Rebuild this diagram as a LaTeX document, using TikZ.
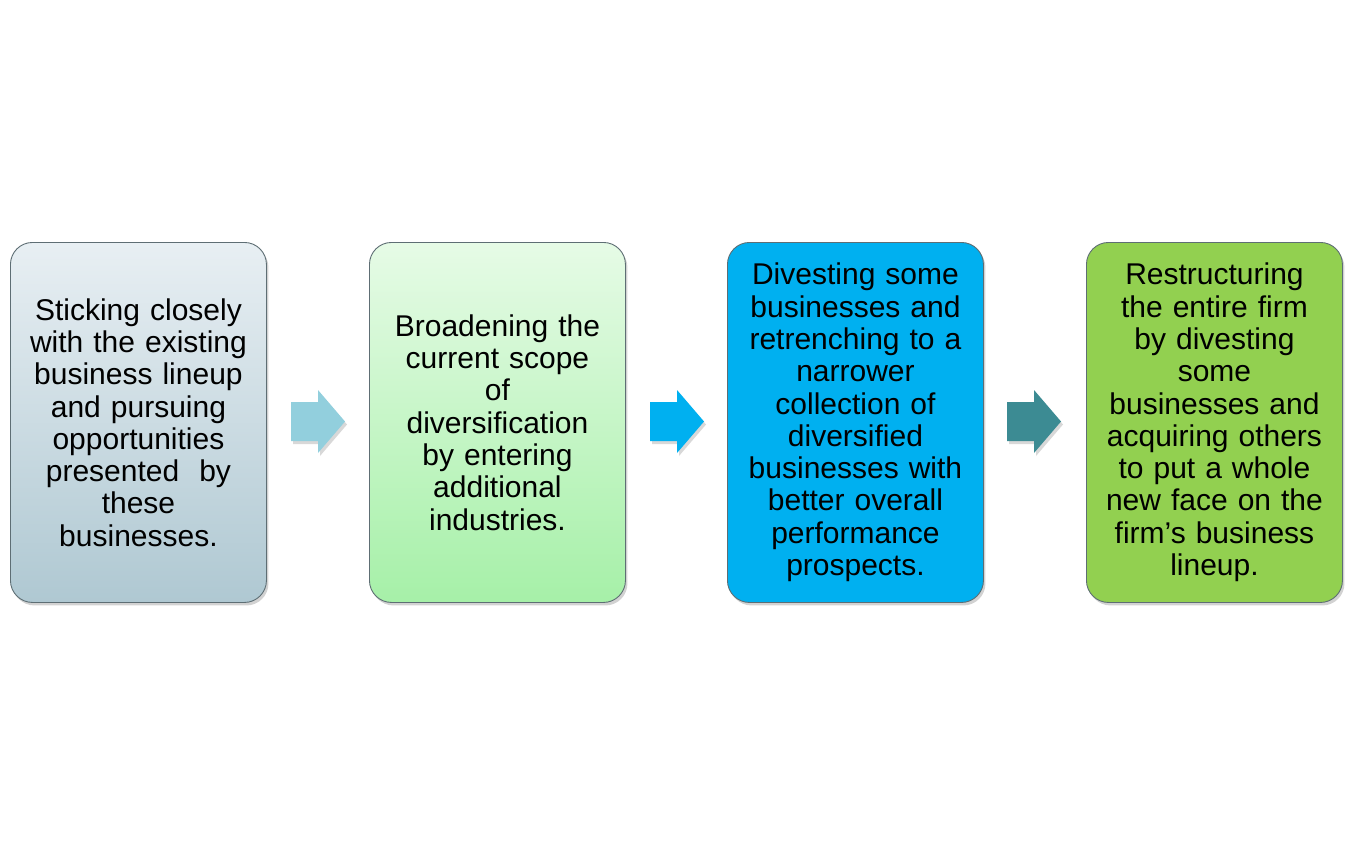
\documentclass[tikz,border=0pt]{standalone}
\usepackage{fontspec}
\setmainfont{Liberation Sans}
\usetikzlibrary{shadows}
\definecolor{bOneTop}{HTML}{E8EFF3}
\definecolor{bOneBot}{HTML}{AFC8D2}
\definecolor{bTwoTop}{HTML}{E6FBE6}
\definecolor{bTwoBot}{HTML}{A6F0A8}
\definecolor{bThree}{HTML}{00B0F0}
\definecolor{bFour}{HTML}{92D050}
\definecolor{aOne}{HTML}{92CFDD}
\definecolor{aTwo}{HTML}{00B0F0}
\definecolor{aThree}{HTML}{3C8B93}
\definecolor{edge}{HTML}{5E6E74}
\begin{document}
\begin{tikzpicture}[x=1pt,y=-1pt,
  boxstyle/.style={draw=edge, line width=0.9pt, rounded corners=22pt,
    minimum width=256pt, minimum height=360pt, inner sep=0pt,
    text width=248pt, align=center, anchor=north west,
    font=\fontsize{30}{32.3}\selectfont,
    drop shadow={shadow xshift=2pt, shadow yshift=-3pt, opacity=0.35}},
  arrowstyle/.style={draw=none,
    drop shadow={shadow xshift=2pt, shadow yshift=-3pt, opacity=0.3}}]
\useasboundingbox (0,0) rectangle (1362,844);
\fill[white] (0,0) rectangle (1362,844);

\node[boxstyle, top color=bOneTop, bottom color=bOneBot] (b1) at (10,242)
 {Sticking closely\\with the existing\\business lineup\\and pursuing\\opportunities\\presented\ \ by\\these\\businesses.};
\node[boxstyle, top color=bTwoTop, bottom color=bTwoBot] (b2) at (369,242)
 {Broadening the\\current scope\\of\\diversification\\by entering\\additional\\industries.};
\node[boxstyle, fill=bThree] (b3) at (727,242)
 {Divesting some\\businesses and\\retrenching to a\\narrower\\collection of\\diversified\\businesses with\\better overall\\performance\\prospects.};
\node[boxstyle, fill=bFour] (b4) at (1086,242)
 {Restructuring\\the entire firm\\by divesting\\some\\businesses and\\acquiring others\\to put a whole\\new face on the\\firm’s business\\lineup.};

\coordinate (a1) at (291,421.5);
\coordinate (a2) at (650,421.5);
\coordinate (a3) at (1007,421.5);
\foreach \c/\col in {a1/aOne,a2/aTwo,a3/aThree}{
  \path[arrowstyle, fill=\col] (\c) ++(0,-19.5) -- ++(27,0) -- ++(0,-12) -- ++(27,31.5)
    -- ++(-27,31.5) -- ++(0,-12) -- ++(-27,0) -- cycle;
}
\end{tikzpicture}
\end{document}
